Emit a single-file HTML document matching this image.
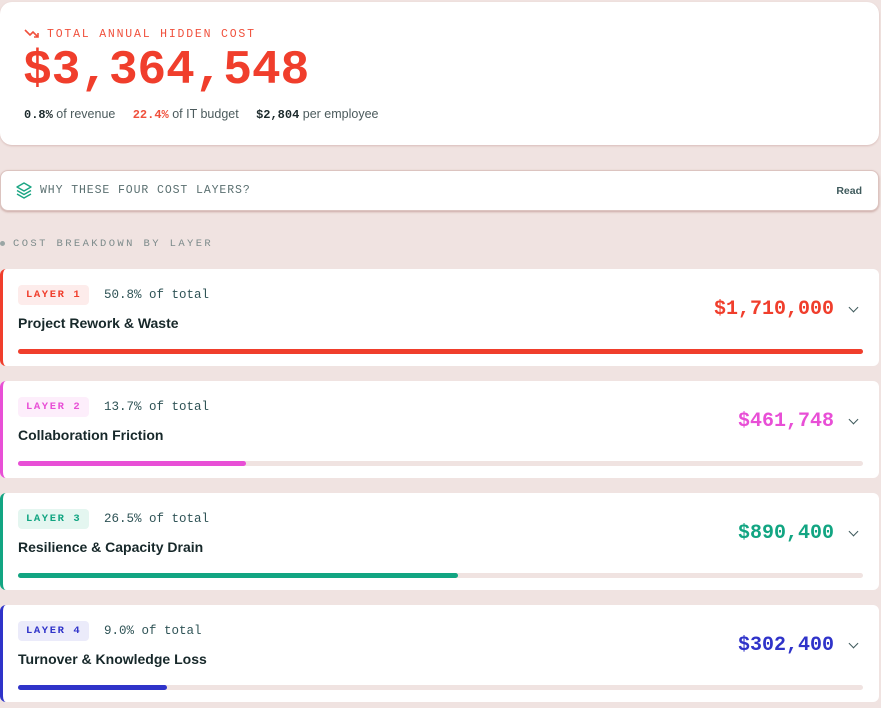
<!DOCTYPE html>
<html><head><style>
*{box-sizing:border-box;margin:0;padding:0}
body{width:881px;height:708px;background:#f0e3e1;font-family:"Liberation Sans",sans-serif;position:relative;overflow:hidden}
.mono{font-family:"Liberation Mono",monospace}
.top{position:absolute;left:0;top:2px;width:879px;height:143px;background:#fff;border-radius:12px;box-shadow:0 1px 2px #d8bcb8}
.lbl{position:absolute;left:47px;top:26px;font-size:11.5px;letter-spacing:1.8px;color:#f0503c}
.big{position:absolute;left:23px;top:42px;font-size:48px;font-weight:bold;color:#f03e2c;letter-spacing:-0.2px}
.stats{position:absolute;left:24px;top:105px;font-size:12.5px;color:#4c5b5d}
.stats b{font-family:"Liberation Mono",monospace;color:#1c2a2c;font-size:12px}
.why{position:absolute;left:0;top:170px;width:879px;height:41px;background:#fff;border-radius:8px;box-shadow:0 1px 2px #c9a7a2;border:1px solid #dcc4c0}
.why .t{position:absolute;left:39px;top:13px;font-size:11.5px;letter-spacing:0.9px;color:#5b7071}
.why .r{position:absolute;right:16px;top:14px;font-size:10.5px;font-weight:bold;color:#3f5a5c}
.sec{position:absolute;left:13px;top:238px;font-size:10.5px;letter-spacing:2.4px;color:#7d8b8b}
.dot{position:absolute;left:0;top:241px;width:5px;height:5px;border-radius:50%;background:#9aa6a5}
.card{position:absolute;left:0;width:879px;height:97px;background:#fff;border-radius:6px;border-left:3px solid}
.tag{position:absolute;left:15px;top:16px;height:20px;padding:0 8px;border-radius:4px;font-size:10.5px;letter-spacing:1.6px;line-height:20px;font-weight:bold}
.pct{position:absolute;top:19px;font-size:12.5px;color:#2f5356}
.name{position:absolute;left:15px;top:46px;font-size:14px;font-weight:bold;color:#17282a}
.amt{position:absolute;right:45px;top:29px;font-size:20px;font-weight:bold}
.chev{position:absolute;right:22px;top:35px;width:7px;height:7px;border-right:1.5px solid #3f5a5c;border-bottom:1.5px solid #3f5a5c;transform:rotate(45deg)}
.track{position:absolute;left:15px;top:80px;width:845px;height:5px;border-radius:3px;background:#f0e3e1}
.fill{height:5px;border-radius:3px}
</style></head><body>
<div class="top">
<svg style="position:absolute;left:24px;top:26px" width="16" height="12" viewBox="0 0 16 12"><path d="M1 2 L6 7 L9 4 L14 9 M10 9 H14 V5" fill="none" stroke="#f0503c" stroke-width="1.6"/></svg>
<div class="lbl mono">TOTAL ANNUAL HIDDEN COST</div>
<div class="big mono">$3,364,548</div>
<div class="stats"><b>0.8%</b> of revenue &nbsp;&nbsp;&nbsp;&nbsp;<b style="color:#f0503c">22.4%</b> of IT budget &nbsp;&nbsp;&nbsp;&nbsp;<b>$2,804</b> per employee</div>
</div>
<div class="why">
<svg style="position:absolute;left:15px;top:11px" width="16" height="17" viewBox="0 0 16 17"><path d="M8 1 L15 5 L8 9 L1 5 Z M1 8.5 L8 12.5 L15 8.5 M1 12 L8 16 L15 12" fill="none" stroke="#1aa583" stroke-width="1.4" stroke-linejoin="round"/></svg>
<div class="t mono">WHY THESE FOUR COST LAYERS?</div>
<div class="r">Read</div>
</div>
<div class="dot"></div><div class="sec mono">COST BREAKDOWN BY LAYER</div>

<div class="card" style="top:269px;border-color:#f03e2c">
<div class="tag mono" style="background:#fdeceb;color:#f03e2c">LAYER 1</div>
<div class="pct mono" style="left:101px">50.8% of total</div>
<div class="name">Project Rework &amp; Waste</div>
<div class="amt mono" style="color:#f03e2c">$1,710,000</div><div class="chev"></div>
<div class="track"><div class="fill" style="width:845px;background:#f03e2c"></div></div>
</div>
<div class="card" style="top:381px;border-color:#e84fd6">
<div class="tag mono" style="background:#fdeefb;color:#e84fd6">LAYER 2</div>
<div class="pct mono" style="left:101px">13.7% of total</div>
<div class="name">Collaboration Friction</div>
<div class="amt mono" style="color:#e84fd6">$461,748</div><div class="chev"></div>
<div class="track"><div class="fill" style="width:228px;background:#e84fd6"></div></div>
</div>
<div class="card" style="top:493px;border-color:#12a582">
<div class="tag mono" style="background:#e4f6f0;color:#12a582">LAYER 3</div>
<div class="pct mono" style="left:101px">26.5% of total</div>
<div class="name">Resilience &amp; Capacity Drain</div>
<div class="amt mono" style="color:#12a582">$890,400</div><div class="chev"></div>
<div class="track"><div class="fill" style="width:440px;background:#12a582"></div></div>
</div>
<div class="card" style="top:605px;border-color:#2f33c9">
<div class="tag mono" style="background:#ebebfa;color:#2f33c9">LAYER 4</div>
<div class="pct mono" style="left:101px">9.0% of total</div>
<div class="name">Turnover &amp; Knowledge Loss</div>
<div class="amt mono" style="color:#2f33c9">$302,400</div><div class="chev"></div>
<div class="track"><div class="fill" style="width:149px;background:#2f33c9"></div></div>
</div>
</body></html>
